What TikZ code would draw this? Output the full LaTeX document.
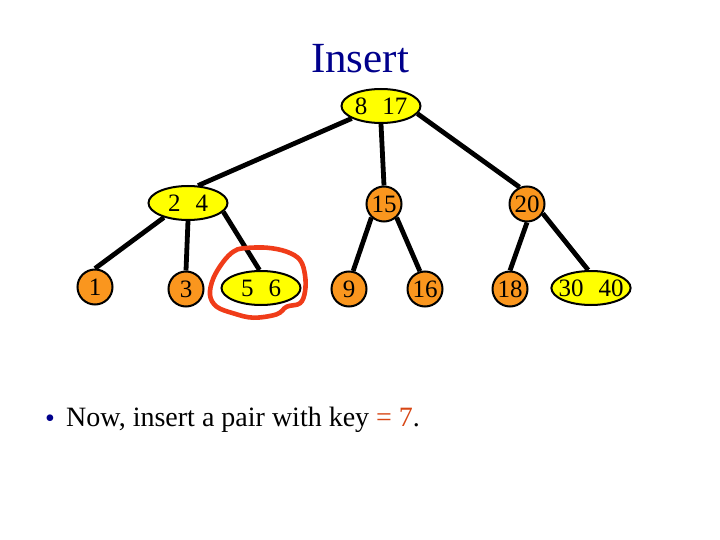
\documentclass[tikz,border=0pt]{standalone}
\usepackage{fontspec}
\setmainfont{Liberation Serif}
\usetikzlibrary{shapes.geometric}
\definecolor{nodeyellow}{RGB}{255,255,0}
\definecolor{nodeorange}{RGB}{250,150,30}
\definecolor{titleblue}{RGB}{0,0,140}
\definecolor{keyred}{RGB}{215,70,20}
\definecolor{markred}{RGB}{240,60,25}
\pgfdeclarelayer{back}
\pgfsetlayers{back,main}
\begin{document}
\begin{tikzpicture}[x=1pt,y=-1pt,
  pair/.style={ellipse,draw=black,line width=2pt,fill=nodeyellow,minimum width=79pt,minimum height=34pt,inner sep=0pt,font=\fontsize{25}{25}\selectfont},
  single/.style={circle,draw=black,line width=2pt,fill=nodeorange,minimum size=35pt,inner sep=0pt,font=\fontsize{25}{25}\selectfont},
  link/.style={line width=4.8pt,black}]
\useasboundingbox (0,0) rectangle (720,540);
\node[anchor=base,text=titleblue,font=\fontsize{43}{43}\selectfont] (title) at (360,72.5) {Insert};
\node[pair] (root) at (381,106) {8\hspace{0.6em}17};
\node[pair] (n24) at (188,203) {2\hspace{0.6em}4};
\node[single] (n15) at (384,204) {15};
\node[single] (n20) at (527,204) {20};
\node[single] (n1) at (95,287) {1};
\node[single] (n3) at (186,289) {3};
\node[pair] (n56) at (261,288) {5\hspace{0.6em}6};
\node[single] (n9) at (349,289) {9};
\node[single] (n16) at (425,289) {16};
\node[single] (n18) at (510,289) {18};
\node[pair,inner xsep=-4.5pt] (n30) at (591,288) {30\hspace{0.6em}40};
\begin{pgfonlayer}{back}
\draw[link] (root.203) -- (n24.60);
\draw[link] (root.south) -- (n15.north);
\draw[link] (root.348) -- (n20.114);
\draw[link] (n24.211) -- (n1.north);
\draw[link] (n24.south) -- (n3.north);
\draw[link] (n24.346) -- (n56.95);
\draw[link] (n15.227) -- (n9.77);
\draw[link] (n15.313) -- (n16.106);
\draw[link] (n20.south) -- (n18.north);
\draw[link] (n20.329) -- (n30.99);
\end{pgfonlayer}
\draw[markred,line width=4.6pt,line join=round] plot[smooth cycle,tension=0.6] coordinates {
 (243.3,248.3) (266.7,247.7) (286.7,251.7) (300,260) (305,275) (305,291.7)
 (300,303.3) (286.7,306.7) (276.7,314.3) (253.3,317.7) (233.3,313.3)
 (216.7,306.7) (210,295) (213.3,278.3) (223.3,261.7) (233.3,251.7)};
\node[text=titleblue,font=\fontsize{28}{28}\selectfont,inner sep=0pt] (bullet) at (50,421) {•};
\node[anchor=base west,inner sep=0pt,font=\fontsize{28}{28}\selectfont] (text) at (66,426.7) {Now, insert a pair with key {\color{keyred}= 7}.};
\end{tikzpicture}
\end{document}
